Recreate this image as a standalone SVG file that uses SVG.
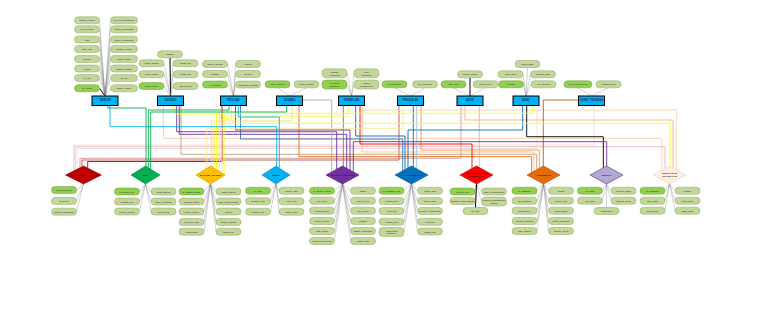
<svg xmlns="http://www.w3.org/2000/svg" width="768" height="331" viewBox="0 0 768 331">
<style>
.a rect{fill:#c3d69b;stroke:#8faa55;stroke-width:.5}
.k rect{fill:#92d050;stroke:#6f9f35;stroke-width:.5}
.a text,.k text{font-family:"Liberation Sans",Arial,sans-serif;font-size:2.3px;fill:#2a2a2a;text-anchor:middle;dominant-baseline:central}
.e rect{fill:#00b0f0;stroke:#000;stroke-width:1}
.e text{font-family:"Liberation Sans",Arial,sans-serif;font-size:2.6px;font-weight:bold;fill:#1f3864;text-anchor:middle;dominant-baseline:central}
.r polygon{stroke-width:.6}
.r text{font-family:"Liberation Sans",Arial,sans-serif;font-size:2.5px;font-weight:bold;fill:#1a1a1a;text-anchor:middle;dominant-baseline:central}
#attr-links line{stroke:#7f7f7f;stroke-width:.35}
#attr-links line.h{stroke:#000;stroke-width:1}
#connectors polyline{fill:none;stroke-width:.9}
</style>
<rect width="768" height="331" fill="#fff"/>

<g id="connectors">
<polyline stroke="#f2dcdb" points="73.5,171 73.5,145 594,145 594,105.5"/>
<polyline stroke="#e6b9b8" points="75,170.25 75,146.7 665,146.7 665,168.5"/>
<polyline stroke="#f2dcdb" points="77,169.25 77,148.5 537,148.5 537,105.5"/>
<polyline stroke="#d99694" points="80,167.75 80,158.3 461,158.3 461,105.5"/>
<polyline stroke="#c0504d" points="82,166.75 82,160 399,160 399,105.5"/>
<polyline stroke="#c00000" points="87.7,168.1 87.7,161.5 222,161.5 222,105.5"/>
<polyline stroke="#f8cbad" points="163.3,105.5 163.3,138.3 662,138.3 662,170.1"/>
<polyline stroke="#fbd4b4" points="358,105.5 358,110 676.7,110 676.7,169.9"/>
<polyline stroke="#f4b183" points="465,105.5 465,120 673,120 673,167.9"/>
<polyline stroke="#f79646" points="421,105.5 421,150 539.3,150 539.3,168.3"/>
<polyline stroke="#c0a080" points="181,105.5 181,154.3 536.7,154.3 536.7,169.7"/>
<polyline stroke="#fac090" points="362,105.5 362,152 534,152 534,171.2"/>
<polyline stroke="#e46c0a" points="299,105.5 299,156.7 531.7,156.7 531.7,172.4"/>
<polyline stroke="#c55a11" points="578.5,100 543.3,100 543.3,166.1"/>
<polyline stroke="#ff0000" points="360,105.5 360,144 472,144 472,168.5"/>
<polyline stroke="#f4a6a6" points="479.3,105.5 479.3,167.5"/>
<polyline stroke="#2e75b6" points="240.5,105.5 240.5,139 402.7,139 402.7,170.8"/>
<polyline stroke="#0070c0" points="355.7,105.5 355.7,136 405,136 405,169.5"/>
<polyline stroke="#0070c0" points="522.7,105.5 522.7,130 408,130 408,167.9"/>
<polyline stroke="#0070c0" points="413.3,105.5 413.3,167"/>
<polyline stroke="#9dc3e6" points="416.7,105.5 416.7,168.8"/>
<polyline stroke="#000000" points="526.7,105.5 526.7,136.7 603.3,136.7 603.3,167.7"/>
<polyline stroke="#7030a0" points="353.3,171.9 353.3,141.7 606.7,141.7 606.7,166.1"/>
<polyline stroke="#7030a0" points="176.7,105.5 176.7,131.7 336.7,131.7 336.7,169.2"/>
<polyline stroke="#7030a0" points="179.3,105.5 179.3,134.3 346.7,134.3 346.7,168.3"/>
<polyline stroke="#7030a0" points="235.5,105.5 235.5,130 350,130 350,170.1"/>
<polyline stroke="#b1a0c7" points="302.5,100 331.7,100 331.7,171.9"/>
<polyline stroke="#8064a2" points="343.3,105.5 343.3,166.4"/>
<polyline stroke="#ffff00" points="175,105.5 175,114 224,114 224,174.4"/>
<polyline stroke="#ffff00" points="231.5,105.5 231.5,119 221.7,119 221.7,173"/>
<polyline stroke="#ffff00" points="348,105.5 348,116 219.3,116 219.3,171.5"/>
<polyline stroke="#ffe699" points="403,105.5 403,128.3 206.7,128.3 206.7,168.4"/>
<polyline stroke="#ffff00" points="532.7,105.5 532.7,113.3 216.7,113.3 216.7,169.8"/>
<polyline stroke="#ffff00" points="214,168.2 214,123.3 670,123.3 670,166.3"/>
<polyline stroke="#ffd966" points="292,105.5 292,121 211.7,121 211.7,166.7"/>
<polyline stroke="#00b0f0" points="110,105.5 110,126.7 276.7,126.7 276.7,166.4"/>
<polyline stroke="#00b0f0" points="238.3,105.5 238.3,117 279.3,117 279.3,168.1"/>
<polyline stroke="#00b050" points="107.7,105.5 107.7,108 146,108 146,166.3"/>
<polyline stroke="#00b050" points="229,105.5 229,110 148.3,110 148.3,167.7"/>
<polyline stroke="#00b050" points="286.7,105.5 286.7,112 150.7,112 150.7,169.2"/>
</g>

<g id="attr-links">
<line x1="105" y1="96" x2="99.5" y2="20.3"/><line x1="105" y1="96" x2="99.5" y2="29.3"/><line x1="105" y1="96" x2="99.5" y2="39.5"/><line x1="105" y1="96" x2="99.5" y2="49"/><line x1="105" y1="96" x2="99.5" y2="59"/><line x1="105" y1="96" x2="99.5" y2="68.5"/><line x1="105" y1="96" x2="99.5" y2="78"/><line class="h" x1="105" y1="96" x2="99.5" y2="88.3"/>
<line x1="105" y1="96" x2="110.5" y2="20.3"/><line x1="105" y1="96" x2="110.5" y2="29.3"/><line x1="105" y1="96" x2="110.5" y2="39.5"/><line x1="105" y1="96" x2="110.5" y2="49"/><line x1="105" y1="96" x2="110.5" y2="59"/><line x1="105" y1="96" x2="110.5" y2="68.5"/><line x1="105" y1="96" x2="110.5" y2="78"/><line x1="105" y1="96" x2="110.5" y2="88.3"/>
<line class="h" x1="170.5" y1="96" x2="170" y2="57.8"/>
<line x1="170.5" y1="96" x2="164" y2="63.3"/><line x1="170.5" y1="96" x2="164" y2="74.3"/><line x1="170.5" y1="96" x2="164" y2="86"/><line x1="170.5" y1="96" x2="173" y2="63.3"/><line x1="170.5" y1="96" x2="173" y2="74.3"/><line x1="170.5" y1="96" x2="173" y2="86"/>
<line x1="233.5" y1="96" x2="227.5" y2="64"/><line x1="233.5" y1="96" x2="227.5" y2="74"/><line x1="233.5" y1="96" x2="227.5" y2="84.5"/><line x1="233.5" y1="96" x2="235.5" y2="64"/><line x1="233.5" y1="96" x2="235.5" y2="74"/><line x1="233.5" y1="96" x2="235.5" y2="84.5"/>
<line x1="289.5" y1="96" x2="277.5" y2="87.8"/><line x1="289.5" y1="96" x2="306.5" y2="87.8"/>
<line x1="351.5" y1="96" x2="347" y2="73.3"/><line x1="351.5" y1="96" x2="347" y2="84.5"/><line x1="351.5" y1="96" x2="354" y2="73.3"/><line x1="351.5" y1="96" x2="354" y2="84.5"/>
<line x1="410.5" y1="96" x2="394.5" y2="87.8"/><line x1="410.5" y1="96" x2="425" y2="87.8"/>
<line class="h" x1="470" y1="96" x2="470" y2="77.8"/><line x1="470" y1="96" x2="453" y2="87.8"/><line x1="470" y1="96" x2="485" y2="87.8"/>
<line x1="526" y1="96" x2="527.5" y2="67.5"/><line x1="526" y1="96" x2="523" y2="74.3"/><line x1="526" y1="96" x2="530.5" y2="74.3"/><line x1="526" y1="96" x2="523.5" y2="84.3"/><line x1="526" y1="96" x2="531" y2="84.3"/>
<line x1="591.5" y1="96" x2="578" y2="87.8"/><line x1="591.5" y1="96" x2="608.5" y2="87.8"/>
<line x1="83.5" y1="184" x2="76.5" y2="190"/><line x1="83.5" y1="184" x2="76.5" y2="201"/><line x1="83.5" y1="184" x2="76.5" y2="211.7"/>
<line x1="145.5" y1="184" x2="139.5" y2="191.5"/><line x1="145.5" y1="184" x2="139.5" y2="201.5"/><line x1="145.5" y1="184" x2="139.5" y2="211.5"/><line x1="145.5" y1="184" x2="151" y2="191.5"/><line x1="145.5" y1="184" x2="151" y2="201.5"/><line x1="145.5" y1="184" x2="151" y2="211.5"/>
<line x1="210.5" y1="184" x2="204" y2="191.5"/><line x1="210.5" y1="184" x2="204" y2="201.5"/><line x1="210.5" y1="184" x2="204" y2="211.5"/><line x1="210.5" y1="184" x2="204" y2="222"/><line x1="210.5" y1="184" x2="204" y2="231.7"/>
<line x1="210.5" y1="184" x2="216" y2="191.5"/><line x1="210.5" y1="184" x2="216" y2="201.5"/><line x1="210.5" y1="184" x2="216" y2="211.5"/><line x1="210.5" y1="184" x2="216" y2="222"/><line x1="210.5" y1="184" x2="216" y2="231.7"/>
<line x1="276" y1="184" x2="270.5" y2="190.7"/><line x1="276" y1="184" x2="270.5" y2="201.3"/><line x1="276" y1="184" x2="270.5" y2="211.7"/><line x1="276" y1="184" x2="279" y2="190.7"/><line x1="276" y1="184" x2="279" y2="201.3"/><line x1="276" y1="184" x2="279" y2="211.7"/>
<line x1="342.5" y1="184" x2="334.5" y2="190.7"/><line x1="342.5" y1="184" x2="334.5" y2="200.7"/><line x1="342.5" y1="184" x2="334.5" y2="210.7"/><line x1="342.5" y1="184" x2="334.5" y2="221"/><line x1="342.5" y1="184" x2="334.5" y2="231"/><line x1="342.5" y1="184" x2="334.5" y2="241"/>
<line x1="342.5" y1="184" x2="350.5" y2="190.7"/><line x1="342.5" y1="184" x2="350.5" y2="200.7"/><line x1="342.5" y1="184" x2="350.5" y2="210.7"/><line x1="342.5" y1="184" x2="350.5" y2="221"/><line x1="342.5" y1="184" x2="350.5" y2="231"/><line x1="342.5" y1="184" x2="350.5" y2="241"/>
<line x1="411.5" y1="184" x2="404" y2="190.7"/><line x1="411.5" y1="184" x2="404" y2="201"/><line x1="411.5" y1="184" x2="404" y2="211"/><line x1="411.5" y1="184" x2="404" y2="221.7"/><line x1="411.5" y1="184" x2="404" y2="232"/>
<line x1="411.5" y1="184" x2="417.5" y2="190.7"/><line x1="411.5" y1="184" x2="417.5" y2="201"/><line x1="411.5" y1="184" x2="417.5" y2="211"/><line x1="411.5" y1="184" x2="417.5" y2="221.7"/><line x1="411.5" y1="184" x2="417.5" y2="231.5"/>
<line x1="476.5" y1="184" x2="475" y2="191.5"/><line x1="476.5" y1="184" x2="475" y2="201"/><line x1="476.5" y1="184" x2="481.5" y2="191.5"/><line x1="476.5" y1="184" x2="481.5" y2="201.5"/><line class="h" x1="476.5" y1="184" x2="475.5" y2="207.5"/>
<line x1="543.5" y1="184" x2="537" y2="190.7"/><line x1="543.5" y1="184" x2="537" y2="200.7"/><line x1="543.5" y1="184" x2="537" y2="210.7"/><line x1="543.5" y1="184" x2="537" y2="221"/><line x1="543.5" y1="184" x2="537" y2="231"/>
<line x1="543.5" y1="184" x2="548.5" y2="190.7"/><line x1="543.5" y1="184" x2="548.5" y2="200.7"/><line x1="543.5" y1="184" x2="548.5" y2="210.7"/><line x1="543.5" y1="184" x2="548.5" y2="221"/><line x1="543.5" y1="184" x2="548.5" y2="231"/>
<line x1="606.5" y1="184" x2="602.5" y2="190.7"/><line x1="606.5" y1="184" x2="602.5" y2="200.7"/><line x1="606.5" y1="184" x2="611" y2="190.7"/><line x1="606.5" y1="184" x2="611" y2="200.7"/><line x1="606.5" y1="184" x2="606.5" y2="207.5"/>
<line x1="669.5" y1="184" x2="665" y2="190.7"/><line x1="669.5" y1="184" x2="665" y2="200.7"/><line x1="669.5" y1="184" x2="665" y2="210.7"/><line x1="669.5" y1="184" x2="675" y2="190.7"/><line x1="669.5" y1="184" x2="675" y2="200.7"/><line x1="669.5" y1="184" x2="675" y2="210.7"/>
</g>

<!-- Entities -->
<g id="e1" class="e"><rect x="92" y="96" width="26" height="9.5"/><text x="105" y="100.8">VENDOR</text></g>
<g id="e2" class="e"><rect x="157.5" y="96" width="26" height="9.5"/><text x="170.5" y="100.8">BARANG</text></g>
<g id="e3" class="e"><rect x="220.5" y="96" width="26" height="9.5"/><text x="233.5" y="100.8">PETUGAS</text></g>
<g id="e4" class="e"><rect x="276.5" y="96" width="26" height="9.5"/><text x="289.5" y="100.8">GUDANG</text></g>
<g id="e5" class="e"><rect x="338.5" y="96" width="26" height="9.5"/><text x="351.5" y="100.8">PEMBELIAN</text></g>
<g id="e6" class="e"><rect x="397.5" y="96" width="26" height="9.5"/><text x="410.5" y="100.8">PENJUALAN</text></g>
<g id="e7" class="e"><rect x="457" y="96" width="26" height="9.5"/><text x="470" y="100.8">AKUN</text></g>
<g id="e8" class="e"><rect x="513" y="96" width="26" height="9.5"/><text x="526" y="100.8">BANK</text></g>
<g id="e9" class="e"><rect x="578.5" y="96" width="26" height="9.5"/><text x="591.5" y="100.8">SURAT_PESANAN</text></g>

<!-- Relationships -->
<g id="d1" class="r"><polygon points="83.5,166 101.5,175 83.5,184 65.5,175" fill="#c00000" stroke="#8b0000"/><text x="83.5" y="175">PEMBAYARAN_HUTANG</text></g>
<g id="d2" class="r"><polygon points="145.5,166 160,175 145.5,184 131,175" fill="#00b050" stroke="#007a38"/><text x="145.5" y="175">BELI</text></g>
<g id="d3" class="r"><polygon points="210.5,166 225,175 210.5,184 196,175" fill="#ffc000" stroke="#c79500"/><text x="210.5" y="175">BARANG_MASUK</text></g>
<g id="d4" class="r"><polygon points="276,166 290,175 276,184 262,175" fill="#00b0f0" stroke="#0083b3"/><text x="276" y="175">RETUR</text></g>
<g id="d5" class="r"><polygon points="342.5,166 359,175 342.5,184 326,175" fill="#7030a0" stroke="#4b1f6b"/><text x="342.5" y="175">BARANG_KELUAR</text></g>
<g id="d6" class="r"><polygon points="411.5,166 428,175 411.5,184 395,175" fill="#0070c0" stroke="#004f88"/><text x="411.5" y="175">TRANSAKSI_KAS</text></g>
<g id="d7" class="r"><polygon points="476.5,166 493,175 476.5,184 460,175" fill="#ff0000" stroke="#b30000"/><text x="476.5" y="173.6">PENGEMBALIAN</text><text x="476.5" y="176.5">PEMBELIAN</text></g>
<g id="d8" class="r"><polygon points="543.5,166 560,175 543.5,184 527,175" fill="#e36c09" stroke="#a54f07"/><text x="543.5" y="175">ANGSURAN</text></g>
<g id="d9" class="r"><polygon points="606.5,166 623,175 606.5,184 590,175" fill="#b4a7d6" stroke="#4a3b6b"/><text x="606.5" y="175">JURNAL</text></g>
<g id="d10" class="r"><polygon points="669.5,166 686,175 669.5,184 653,175" fill="#fdeee4" stroke="#f2d4c2"/><text x="669.5" y="173.6">RINGKASAN</text><text x="669.5" y="176.5">TRANSAKSI</text></g>

<!-- Attributes of entities -->
<g id="a-e1-1" class="a"><rect x="74.5" y="16.8" width="25" height="7" rx="3.5"/><text x="87" y="20.3">alamat_vendor</text></g>
<g id="a-e1-2" class="a"><rect x="74.5" y="25.8" width="25" height="7" rx="3.5"/><text x="87" y="29.3">no_rekening</text></g>
<g id="a-e1-3" class="a"><rect x="74.5" y="36" width="25" height="7" rx="3.5"/><text x="87" y="39.5">kota</text></g>
<g id="a-e1-4" class="a"><rect x="74.5" y="45.5" width="25" height="7" rx="3.5"/><text x="87" y="49">kode_pos</text></g>
<g id="a-e1-5" class="a"><rect x="74.5" y="55.5" width="25" height="7" rx="3.5"/><text x="87" y="59">provinsi</text></g>
<g id="a-e1-6" class="a"><rect x="74.5" y="65" width="25" height="7" rx="3.5"/><text x="87" y="68.5">negara</text></g>
<g id="a-e1-7" class="a"><rect x="74.5" y="74.5" width="25" height="7" rx="3.5"/><text x="87" y="78">no_fax</text></g>
<g id="a-e1-8" class="k"><rect x="74.5" y="84.8" width="25" height="7" rx="3.5"/><text x="87" y="88.3">id_vendor</text></g>
<g id="a-e1-9" class="a"><rect x="110.5" y="16.8" width="27" height="7" rx="3.5"/><text x="124" y="20.3">no_telp_perusahaan</text></g>
<g id="a-e1-10" class="a"><rect x="110.5" y="25.8" width="27" height="7" rx="3.5"/><text x="124" y="29.3">nama_perusahaan</text></g>
<g id="a-e1-11" class="a"><rect x="110.5" y="36" width="27" height="7" rx="3.5"/><text x="124" y="39.5">email_perusahaan</text></g>
<g id="a-e1-12" class="a"><rect x="110.5" y="45.5" width="27" height="7" rx="3.5"/><text x="124" y="49">website_vendor</text></g>
<g id="a-e1-13" class="a"><rect x="110.5" y="55.5" width="27" height="7" rx="3.5"/><text x="124" y="59">nama_kontak</text></g>
<g id="a-e1-14" class="a"><rect x="110.5" y="65" width="27" height="7" rx="3.5"/><text x="124" y="68.5">jabatan_kontak</text></g>
<g id="a-e1-15" class="a"><rect x="110.5" y="74.5" width="27" height="7" rx="3.5"/><text x="124" y="78">no_hp</text></g>
<g id="a-e1-16" class="a"><rect x="110.5" y="84.8" width="27" height="7" rx="3.5"/><text x="124" y="88.3">status_vendor</text></g>

<g id="a-e2-1" class="a"><rect x="157.5" y="50.8" width="25" height="7" rx="3.5"/><text x="170" y="54.3">satuan</text></g>
<g id="a-e2-2" class="a"><rect x="139" y="59.8" width="25" height="7" rx="3.5"/><text x="151.5" y="63.3">nama_barang</text></g>
<g id="a-e2-3" class="a"><rect x="139" y="70.8" width="25" height="7" rx="3.5"/><text x="151.5" y="74.3">jenis_barang</text></g>
<g id="a-e2-4" class="k"><rect x="139" y="82.5" width="25" height="7" rx="3.5"/><text x="151.5" y="86">kode_barang</text></g>
<g id="a-e2-5" class="a"><rect x="173" y="59.8" width="25" height="7" rx="3.5"/><text x="185.5" y="63.3">harga_beli</text></g>
<g id="a-e2-6" class="a"><rect x="173" y="70.8" width="25" height="7" rx="3.5"/><text x="185.5" y="74.3">harga_jual</text></g>
<g id="a-e2-7" class="a"><rect x="173" y="82.5" width="25" height="7" rx="3.5"/><text x="185.5" y="86">stok_barang</text></g>

<g id="a-e3-1" class="a"><rect x="202.5" y="60.5" width="25" height="7" rx="3.5"/><text x="215" y="64">nama_petugas</text></g>
<g id="a-e3-2" class="a"><rect x="202.5" y="70.5" width="25" height="7" rx="3.5"/><text x="215" y="74">jabatan</text></g>
<g id="a-e3-3" class="k"><rect x="202.5" y="81" width="25" height="7" rx="3.5"/><text x="215" y="84.5">id_petugas</text></g>
<g id="a-e3-4" class="a"><rect x="235.5" y="60.5" width="25" height="7" rx="3.5"/><text x="248" y="64">alamat</text></g>
<g id="a-e3-5" class="a"><rect x="235.5" y="70.5" width="25" height="7" rx="3.5"/><text x="248" y="74">no_telp</text></g>
<g id="a-e3-6" class="a"><rect x="235.5" y="81" width="25" height="7" rx="3.5"/><text x="248" y="84.5">password_petugas</text></g>

<g id="a-e4-1" class="k"><rect x="265" y="80.8" width="25" height="7" rx="3.5"/><text x="277.5" y="84.3">kode_gudang</text></g>
<g id="a-e4-2" class="a"><rect x="294" y="80.8" width="25" height="7" rx="3.5"/><text x="306.5" y="84.3">nama_gudang</text></g>

<g id="a-e5-1" class="a"><rect x="322" y="68.8" width="25" height="9" rx="4"/><text x="334.5" y="72.2">tanggal</text><text x="334.5" y="74.8">pembelian</text></g>
<g id="a-e5-2" class="k"><rect x="322" y="80" width="25" height="9" rx="4"/><text x="334.5" y="83.4">no_faktur</text><text x="334.5" y="86">pembelian</text></g>
<g id="a-e5-3" class="a"><rect x="354" y="68.8" width="25" height="9" rx="4"/><text x="366.5" y="72.2">total</text><text x="366.5" y="74.8">pembelian</text></g>
<g id="a-e5-4" class="a"><rect x="354" y="80" width="25" height="9" rx="4"/><text x="366.5" y="83.4">status</text><text x="366.5" y="86">pembayaran</text></g>

<g id="a-e6-1" class="k"><rect x="382" y="80.8" width="25" height="7" rx="3.5"/><text x="394.5" y="84.3">id_penjualan</text></g>
<g id="a-e6-2" class="a"><rect x="412.5" y="80.8" width="25" height="7" rx="3.5"/><text x="425" y="84.3">tgl_penjualan</text></g>

<g id="a-e7-1" class="a"><rect x="457.5" y="70.8" width="25" height="7" rx="3.5"/><text x="470" y="74.3">saldo_normal</text></g>
<g id="a-e7-2" class="k"><rect x="441" y="80.8" width="25" height="7" rx="3.5"/><text x="453.5" y="84.3">kode_akun</text></g>
<g id="a-e7-3" class="a"><rect x="473" y="80.8" width="25" height="7" rx="3.5"/><text x="485.5" y="84.3">nama_akun</text></g>

<g id="a-e8-1" class="a"><rect x="515" y="60.5" width="25" height="7" rx="3.5"/><text x="527.5" y="64">nama_bank</text></g>
<g id="a-e8-2" class="a"><rect x="498" y="70.8" width="25" height="7" rx="3.5"/><text x="510.5" y="74.3">kode_bank</text></g>
<g id="a-e8-3" class="a"><rect x="530.5" y="70.8" width="25" height="7" rx="3.5"/><text x="543" y="74.3">cabang_bank</text></g>
<g id="a-e8-4" class="k"><rect x="498.5" y="80.8" width="25" height="7" rx="3.5"/><text x="511" y="84.3">id_bank</text></g>
<g id="a-e8-5" class="a"><rect x="531" y="80.8" width="25" height="7" rx="3.5"/><text x="543.5" y="84.3">no_rekening</text></g>

<g id="a-e9-1" class="k"><rect x="564" y="80.8" width="28" height="7" rx="3.5"/><text x="578" y="84.3">no_surat_pesanan</text></g>
<g id="a-e9-2" class="a"><rect x="596" y="80.8" width="25" height="7" rx="3.5"/><text x="608.5" y="84.3">tanggal_surat</text></g>

<!-- Attributes of relationships -->
<g id="a-d1-1" class="k"><rect x="51.5" y="186.5" width="25" height="7" rx="3.5"/><text x="64" y="190">id_pembayaran</text></g>
<g id="a-d1-2" class="a"><rect x="51.5" y="197.5" width="25" height="7" rx="3.5"/><text x="64" y="201">tgl_bayar</text></g>
<g id="a-d1-3" class="a"><rect x="51.5" y="208.2" width="25" height="7" rx="3.5"/><text x="64" y="211.7">jumlah_pembayaran</text></g>

<g id="a-d2-1" class="k"><rect x="114.5" y="188" width="25" height="7" rx="3.5"/><text x="127" y="191.5">no_faktur_beli</text></g>
<g id="a-d2-2" class="a"><rect x="114.5" y="198" width="25" height="7" rx="3.5"/><text x="127" y="201.5">tanggal_beli</text></g>
<g id="a-d2-3" class="a"><rect x="114.5" y="208" width="25" height="7" rx="3.5"/><text x="127" y="211.5">jumlah_barang</text></g>
<g id="a-d2-4" class="a"><rect x="151" y="188" width="25" height="7" rx="3.5"/><text x="163.5" y="191.5">harga_satuan</text></g>
<g id="a-d2-5" class="a"><rect x="151" y="198" width="25" height="7" rx="3.5"/><text x="163.5" y="201.5">total_pembelian</text></g>
<g id="a-d2-6" class="a"><rect x="151" y="208" width="25" height="7" rx="3.5"/><text x="163.5" y="211.5">cara_bayar</text></g>

<g id="a-d3-1" class="k"><rect x="179" y="188" width="25" height="7" rx="3.5"/><text x="191.5" y="191.5">id_barang_masuk</text></g>
<g id="a-d3-2" class="a"><rect x="179" y="198" width="25" height="7" rx="3.5"/><text x="191.5" y="201.5">tanggal_masuk</text></g>
<g id="a-d3-3" class="a"><rect x="179" y="208" width="25" height="7" rx="3.5"/><text x="191.5" y="211.5">jumlah_masuk</text></g>
<g id="a-d3-4" class="a"><rect x="179" y="218.5" width="25" height="7" rx="3.5"/><text x="191.5" y="222">no_surat_jalan</text></g>
<g id="a-d3-5" class="a"><rect x="179" y="228.2" width="25" height="7" rx="3.5"/><text x="191.5" y="231.7">keterangan</text></g>
<g id="a-d3-6" class="a"><rect x="216" y="188" width="25" height="7" rx="3.5"/><text x="228.5" y="191.5">harga_satuan</text></g>
<g id="a-d3-7" class="a"><rect x="216" y="198" width="25" height="7" rx="3.5"/><text x="228.5" y="201.5">total_harga_masuk</text></g>
<g id="a-d3-8" class="a"><rect x="216" y="208" width="25" height="7" rx="3.5"/><text x="228.5" y="211.5">satuan</text></g>
<g id="a-d3-9" class="a"><rect x="216" y="218.5" width="25" height="7" rx="3.5"/><text x="228.5" y="222">kondisi_barang</text></g>
<g id="a-d3-10" class="a"><rect x="216" y="228.2" width="25" height="7" rx="3.5"/><text x="228.5" y="231.7">lokasi_rak</text></g>

<g id="a-d4-1" class="k"><rect x="245.5" y="187.2" width="25" height="7" rx="3.5"/><text x="258" y="190.7">id_retur</text></g>
<g id="a-d4-2" class="a"><rect x="245.5" y="197.8" width="25" height="7" rx="3.5"/><text x="258" y="201.3">tanggal_retur</text></g>
<g id="a-d4-3" class="a"><rect x="245.5" y="208.2" width="25" height="7" rx="3.5"/><text x="258" y="211.7">alasan_retur</text></g>
<g id="a-d4-4" class="a"><rect x="279" y="187.2" width="25" height="7" rx="3.5"/><text x="291.5" y="190.7">jumlah_retur</text></g>
<g id="a-d4-5" class="a"><rect x="279" y="197.8" width="25" height="7" rx="3.5"/><text x="291.5" y="201.3">nilai_retur</text></g>
<g id="a-d4-6" class="a"><rect x="279" y="208.2" width="25" height="7" rx="3.5"/><text x="291.5" y="211.7">status_retur</text></g>

<g id="a-d5-1" class="k"><rect x="309.5" y="187.2" width="25" height="7" rx="3.5"/><text x="322" y="190.7">id_barang_keluar</text></g>
<g id="a-d5-2" class="a"><rect x="309.5" y="197.2" width="25" height="7" rx="3.5"/><text x="322" y="200.7">tgl_keluar</text></g>
<g id="a-d5-3" class="a"><rect x="309.5" y="207.2" width="25" height="7" rx="3.5"/><text x="322" y="210.7">jumlah_keluar</text></g>
<g id="a-d5-4" class="a"><rect x="309.5" y="217.5" width="25" height="7" rx="3.5"/><text x="322" y="221">harga_satuan</text></g>
<g id="a-d5-5" class="a"><rect x="309.5" y="227.5" width="25" height="7" rx="3.5"/><text x="322" y="231">total_harga</text></g>
<g id="a-d5-6" class="a"><rect x="309.5" y="237.5" width="25" height="7" rx="3.5"/><text x="322" y="241">keterangan_keluar</text></g>
<g id="a-d5-7" class="a"><rect x="350.5" y="187.2" width="25" height="7" rx="3.5"/><text x="363" y="190.7">diskon</text></g>
<g id="a-d5-8" class="a"><rect x="350.5" y="197.2" width="25" height="7" rx="3.5"/><text x="363" y="200.7">biaya_kirim</text></g>
<g id="a-d5-9" class="a"><rect x="350.5" y="207.2" width="25" height="7" rx="3.5"/><text x="363" y="210.7">ppn_keluar</text></g>
<g id="a-d5-10" class="a"><rect x="350.5" y="217.5" width="25" height="7" rx="3.5"/><text x="363" y="221">subtotal</text></g>
<g id="a-d5-11" class="a"><rect x="350.5" y="227.5" width="25" height="7" rx="3.5"/><text x="363" y="231">status_pengiriman</text></g>
<g id="a-d5-12" class="a"><rect x="350.5" y="237.5" width="25" height="7" rx="3.5"/><text x="363" y="241">nama_kurir</text></g>

<g id="a-d6-1" class="k"><rect x="379" y="187.2" width="25" height="7" rx="3.5"/><text x="391.5" y="190.7">id_transaksi_kas</text></g>
<g id="a-d6-2" class="a"><rect x="379" y="197.5" width="25" height="7" rx="3.5"/><text x="391.5" y="201">tanggal_kas</text></g>
<g id="a-d6-3" class="a"><rect x="379" y="207.5" width="25" height="7" rx="3.5"/><text x="391.5" y="211">jenis_kas</text></g>
<g id="a-d6-4" class="a"><rect x="379" y="218.2" width="25" height="7" rx="3.5"/><text x="391.5" y="221.7">jumlah_kas</text></g>
<g id="a-d6-5" class="a"><rect x="379" y="227.5" width="25" height="9" rx="4"/><text x="391.5" y="230.7">keterangan</text><text x="391.5" y="233.3">transaksi</text></g>
<g id="a-d6-6" class="a"><rect x="417.5" y="187.2" width="25" height="7" rx="3.5"/><text x="430" y="190.7">saldo_awal</text></g>
<g id="a-d6-7" class="a"><rect x="417.5" y="197.5" width="25" height="7" rx="3.5"/><text x="430" y="201">saldo_akhir</text></g>
<g id="a-d6-8" class="a"><rect x="417.5" y="207.5" width="25" height="7" rx="3.5"/><text x="430" y="211">metode_pembayaran</text></g>
<g id="a-d6-9" class="a"><rect x="417.5" y="218.2" width="25" height="7" rx="3.5"/><text x="430" y="221.7">referensi</text></g>
<g id="a-d6-10" class="a"><rect x="417.5" y="228" width="25" height="7" rx="3.5"/><text x="430" y="231.5">status_kas</text></g>

<g id="a-d7-1" class="k"><rect x="450" y="188" width="25" height="7" rx="3.5"/><text x="462.5" y="191.5">id_retur_beli</text></g>
<g id="a-d7-2" class="a"><rect x="450" y="197.5" width="25" height="7" rx="3.5"/><text x="462.5" y="201">tanggal_pengembalian</text></g>
<g id="a-d7-3" class="a"><rect x="481.5" y="188" width="25" height="7" rx="3.5"/><text x="494" y="191.5">total_pengembalian</text></g>
<g id="a-d7-4" class="a"><rect x="481.5" y="197" width="25" height="9" rx="4"/><text x="494" y="200.2">alasan_pengembalian</text><text x="494" y="202.8">barang</text></g>
<g id="a-d7-5" class="a"><rect x="463" y="207.5" width="25" height="7" rx="3.5"/><text x="475.5" y="211">no_nota</text></g>

<g id="a-d8-1" class="k"><rect x="512" y="187.2" width="25" height="7" rx="3.5"/><text x="524.5" y="190.7">id_angsuran</text></g>
<g id="a-d8-2" class="a"><rect x="512" y="197.2" width="25" height="7" rx="3.5"/><text x="524.5" y="200.7">tgl_angsuran</text></g>
<g id="a-d8-3" class="a"><rect x="512" y="207.2" width="25" height="7" rx="3.5"/><text x="524.5" y="210.7">angsuran_ke</text></g>
<g id="a-d8-4" class="a"><rect x="512" y="217.5" width="25" height="7" rx="3.5"/><text x="524.5" y="221">jumlah_angsuran</text></g>
<g id="a-d8-5" class="a"><rect x="512" y="227.5" width="25" height="7" rx="3.5"/><text x="524.5" y="231">sisa_hutang</text></g>
<g id="a-d8-6" class="a"><rect x="548.5" y="187.2" width="25" height="7" rx="3.5"/><text x="561" y="190.7">bunga</text></g>
<g id="a-d8-7" class="a"><rect x="548.5" y="197.2" width="25" height="7" rx="3.5"/><text x="561" y="200.7">denda_telat</text></g>
<g id="a-d8-8" class="a"><rect x="548.5" y="207.2" width="25" height="7" rx="3.5"/><text x="561" y="210.7">jatuh_tempo</text></g>
<g id="a-d8-9" class="a"><rect x="548.5" y="217.5" width="25" height="7" rx="3.5"/><text x="561" y="221">status_angsuran</text></g>
<g id="a-d8-10" class="a"><rect x="548.5" y="227.5" width="25" height="7" rx="3.5"/><text x="561" y="231">metode_bayar</text></g>

<g id="a-d9-1" class="k"><rect x="577.5" y="187.2" width="25" height="7" rx="3.5"/><text x="590" y="190.7">id_jurnal</text></g>
<g id="a-d9-2" class="a"><rect x="577.5" y="197.2" width="25" height="7" rx="3.5"/><text x="590" y="200.7">tgl_jurnal</text></g>
<g id="a-d9-3" class="a"><rect x="611" y="187.2" width="25" height="7" rx="3.5"/><text x="623.5" y="190.7">nominal_debit</text></g>
<g id="a-d9-4" class="a"><rect x="611" y="197.2" width="25" height="7" rx="3.5"/><text x="623.5" y="200.7">nominal_kredit</text></g>
<g id="a-d9-5" class="a"><rect x="594" y="207.5" width="25" height="7" rx="3.5"/><text x="606.5" y="211">keterangan</text></g>

<g id="a-d10-1" class="k"><rect x="640" y="187.2" width="25" height="7" rx="3.5"/><text x="652.5" y="190.7">id_ringkasan</text></g>
<g id="a-d10-2" class="a"><rect x="640" y="197.2" width="25" height="7" rx="3.5"/><text x="652.5" y="200.7">total_debit</text></g>
<g id="a-d10-3" class="a"><rect x="640" y="207.2" width="25" height="7" rx="3.5"/><text x="652.5" y="210.7">total_kredit</text></g>
<g id="a-d10-4" class="a"><rect x="675" y="187.2" width="25" height="7" rx="3.5"/><text x="687.5" y="190.7">periode</text></g>
<g id="a-d10-5" class="a"><rect x="675" y="197.2" width="25" height="7" rx="3.5"/><text x="687.5" y="200.7">saldo_awal</text></g>
<g id="a-d10-6" class="a"><rect x="675" y="207.2" width="25" height="7" rx="3.5"/><text x="687.5" y="210.7">saldo_akhir</text></g>
</svg>
